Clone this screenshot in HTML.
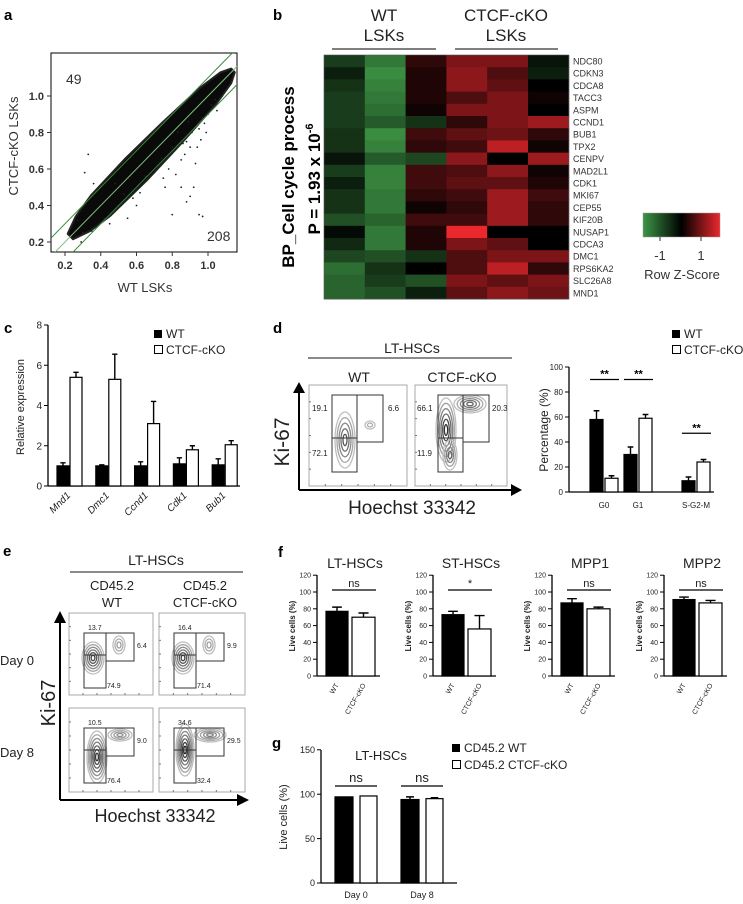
<!DOCTYPE html>
<html><head><meta charset="utf-8"><style>
html,body{margin:0;padding:0;background:#fff;}
svg{display:block;font-family:"Liberation Sans",sans-serif;}
</style></head><body>
<svg id="fig" width="743" height="904" viewBox="0 0 743 904" xmlns="http://www.w3.org/2000/svg">
<defs>
<linearGradient id="zgrad" x1="0" x2="1" y1="0" y2="0">
<stop offset="0" stop-color="rgb(60,150,70)"/><stop offset="0.5" stop-color="#000"/><stop offset="1" stop-color="rgb(235,40,45)"/>
</linearGradient>
<clipPath id="aclip"><rect x="51" y="53" width="186" height="199"/></clipPath>
</defs>
<text x="4" y="20" font-size="15" font-weight="bold">a</text>
<text x="273" y="20" font-size="15" font-weight="bold">b</text>
<text x="4" y="333" font-size="15" font-weight="bold">c</text>
<text x="273" y="333" font-size="15" font-weight="bold">d</text>
<text x="3" y="556" font-size="15" font-weight="bold">e</text>
<text x="278" y="557" font-size="15" font-weight="bold">f</text>
<text x="272" y="748" font-size="15" font-weight="bold">g</text>

<g id="pa">
<rect x="51" y="53" width="186" height="199" fill="none" stroke="#000" stroke-width="1"/>
<text x="18" y="146" font-size="13" fill="#333" text-anchor="middle" transform="rotate(-90 18 146)">CTCF-cKO LSKs</text>
<text x="145" y="292" font-size="13" fill="#333" text-anchor="middle">WT LSKs</text>
<text x="66" y="84" font-size="14" fill="#333">49</text>
<text x="207" y="241" font-size="14" fill="#333">208</text>
</g>

<g>
<text x="384" y="21" font-size="17" text-anchor="middle" fill="#222">WT</text>
<text x="384" y="41" font-size="17" text-anchor="middle" fill="#222">LSKs</text>
<line x1="332" y1="49" x2="436" y2="49" stroke="#333" stroke-width="1.3"/>
<text x="506" y="21" font-size="17" text-anchor="middle" fill="#222">CTCF-cKO</text>
<text x="506" y="41" font-size="17" text-anchor="middle" fill="#222">LSKs</text>
<line x1="455" y1="49" x2="558" y2="49" stroke="#333" stroke-width="1.3"/>
<text x="294" y="177" font-size="17" font-weight="bold" text-anchor="middle" transform="rotate(-90 294 177)">BP_Cell cycle process</text>
<text x="320" y="179" font-size="17" font-weight="bold" text-anchor="middle" transform="rotate(-90 320 179)">P = 1.93 x 10<tspan font-size="11" dy="-7">-6</tspan></text>
<rect x="643" y="213" width="77" height="24" fill="url(#zgrad)" stroke="#999" stroke-width="0.5"/>
<line x1="660" y1="237" x2="660" y2="241" stroke="#333"/>
<line x1="701" y1="237" x2="701" y2="241" stroke="#333"/>
<text x="660" y="260" font-size="13" text-anchor="middle" fill="#333">-1</text>
<text x="701" y="260" font-size="13" text-anchor="middle" fill="#333">1</text>
<text x="682" y="279" font-size="13" text-anchor="middle" fill="#333">Row Z-Score</text>
</g>

<text x="24" y="407" font-size="11" text-anchor="middle" fill="#222" transform="rotate(-90 24 407)">Relative expression</text>
<rect x="154" y="330" width="8" height="8" fill="#000"/>
<text x="166" y="338" font-size="12" fill="#222">WT</text>
<rect x="154.5" y="345.5" width="8" height="8" fill="#fff" stroke="#000"/>
<text x="166" y="354" font-size="12" fill="#222">CTCF-cKO</text>

<text x="412" y="353" font-size="14" text-anchor="middle" fill="#222">LT-HSCs</text>
<line x1="308" y1="358" x2="512" y2="358" stroke="#444" stroke-width="1.3"/>
<text x="359" y="382" font-size="14" text-anchor="middle" fill="#222">WT</text>
<text x="462" y="382" font-size="14" text-anchor="middle" fill="#222">CTCF-cKO</text>
<text x="289" y="442" font-size="21" text-anchor="middle" fill="#222" transform="rotate(-90 289 442)">Ki-67</text>
<text x="412" y="514" font-size="19" text-anchor="middle" fill="#222">Hoechst 33342</text>
<line x1="299" y1="490" x2="299" y2="392" stroke="#000" stroke-width="2"/>
<polygon points="293,393 305,393 299,382" fill="#000"/>
<line x1="299" y1="490" x2="512" y2="490" stroke="#000" stroke-width="2"/>
<polygon points="511,484 511,496 522,490" fill="#000"/>
<text x="548" y="430" font-size="12" text-anchor="middle" fill="#222" transform="rotate(-90 548 430)">Percentage (%)</text>
<rect x="672" y="330" width="8" height="8" fill="#000"/>
<text x="684" y="338" font-size="12" fill="#222">WT</text>
<rect x="672.5" y="345.5" width="8" height="8" fill="#fff" stroke="#000"/>
<text x="684" y="354" font-size="12" fill="#222">CTCF-cKO</text>

<text x="156" y="565" font-size="14" text-anchor="middle" fill="#222">LT-HSCs</text>
<line x1="70" y1="572" x2="243" y2="572" stroke="#444" stroke-width="1.3"/>
<text x="112" y="590" font-size="13" text-anchor="middle" fill="#222">CD45.2</text>
<text x="112" y="607" font-size="13" text-anchor="middle" fill="#222">WT</text>
<text x="205" y="590" font-size="13" text-anchor="middle" fill="#222">CD45.2</text>
<text x="205" y="607" font-size="13" text-anchor="middle" fill="#222">CTCF-cKO</text>
<text x="0" y="665" font-size="13" fill="#222">Day 0</text>
<text x="0" y="757" font-size="13" fill="#222">Day 8</text>
<text x="55" y="703" font-size="20" text-anchor="middle" fill="#222" transform="rotate(-90 55 703)">Ki-67</text>
<text x="155" y="822" font-size="18" text-anchor="middle" fill="#222">Hoechst 33342</text>
<line x1="60" y1="800" x2="60" y2="622" stroke="#000" stroke-width="2"/>
<polygon points="54,623 66,623 60,611" fill="#000"/>
<line x1="60" y1="800" x2="238" y2="800" stroke="#000" stroke-width="2"/>
<polygon points="237,794 237,806 249,800" fill="#000"/>

<text x="381" y="760" font-size="13" text-anchor="middle" fill="#222">LT-HSCs</text>
<text x="287" y="817" font-size="11" text-anchor="middle" fill="#222" transform="rotate(-90 287 817)">Live cells (%)</text>
<rect x="452" y="744" width="8" height="8" fill="#000"/>
<text x="464" y="752" font-size="12" fill="#222">CD45.2 WT</text>
<rect x="452.5" y="760.5" width="8" height="8" fill="#fff" stroke="#000"/>
<text x="464" y="769" font-size="12" fill="#222">CD45.2 CTCF-cKO</text>
</svg>
<script>
// ---------- DATA ----------
const aOutX = [0.33,0.31,0.36,0.50,0.70,0.75,0.85,0.90,0.93,0.95,0.95,0.97,0.80,0.88,0.92,0.85,0.90,0.98,1.00,0.60,0.55,0.62,0.45,0.30,0.40,0.80,0.78,0.67,1.02,0.83,0.88,0.94,0.72,0.58,0.99,1.05,0.87,0.82,0.76,0.96,0.27,0.29,0.35,0.42,0.48,0.53,0.65,0.70,0.74,0.86,0.91,1.04,1.08,0.97,0.89];
const aOutY = [0.68,0.58,0.52,0.62,0.80,0.55,0.50,0.45,0.63,0.82,0.35,0.34,0.35,0.42,0.50,0.65,0.72,0.85,0.90,0.40,0.33,0.47,0.30,0.25,0.50,0.72,0.60,0.55,0.95,0.80,0.75,0.72,0.62,0.44,0.80,0.92,0.68,0.57,0.50,0.76,0.32,0.20,0.26,0.33,0.52,0.46,0.56,0.58,0.66,0.74,0.80,0.98,1.00,0.88,0.86];
const aTicks = [0.2,0.4,0.6,0.8,1.0];
const aBandX = [0.23,0.30,0.40,0.60,0.80,1.00,1.10,1.14];
const aBandHalf = [0.015,0.04,0.055,0.06,0.055,0.045,0.03,0.01];
const heatGenes = ["NDC80","CDKN3","CDCA8","TACC3","ASPM","CCND1","BUB1","TPX2","CENPV","MAD2L1","CDK1","MKI67","CEP55","KIF20B","NUSAP1","CDCA3","DMC1","RPS6KA2","SLC26A8","MND1"];
const heatValues = [
[-0.6,-1.2,0.3,0.8,0.8,-0.2],[-0.3,-1.4,0.2,0.9,0.5,-0.3],[-0.5,-1.3,0.2,0.9,0.6,0.0],[-0.6,-1.2,0.2,0.5,0.8,0.1],
[-0.6,-1.1,0.1,0.8,0.8,0.0],[-0.6,-0.9,-0.5,0.3,0.8,1.0],[-0.5,-1.4,0.4,0.6,0.7,0.3],[-0.5,-1.3,0.3,0.4,1.2,0.1],
[-0.2,-0.9,-0.7,0.9,0.0,1.0],[-0.6,-1.3,0.4,0.5,0.9,0.1],[-0.3,-1.3,0.4,0.6,0.6,0.2],[-0.5,-1.2,0.3,0.4,1.0,0.4],
[-0.5,-1.2,0.1,0.3,1.0,0.3],[-0.8,-1.0,0.4,0.4,1.0,0.3],[-0.1,-1.2,0.2,1.5,0.0,0.0],[-0.4,-1.2,0.2,0.8,0.6,0.0],
[-0.7,-0.8,-0.5,0.5,0.8,0.8],[-1.1,-0.5,0.0,0.5,1.2,0.3],[-1.0,-0.6,-0.8,0.8,0.6,0.8],[-1.0,-0.8,-0.3,0.6,0.9,0.7]];
const cGenes = ["Mnd1","Dmc1","Ccnd1","Cdk1","Bub1"];
const cWT = [1.0,1.0,1.0,1.1,1.05];
const cWTerr = [0.15,0.05,0.2,0.3,0.3];
const cKO = [5.4,5.3,3.1,1.8,2.05];
const cKOerr = [0.25,1.25,1.1,0.2,0.2];
const cTicks = [0,2,4,6,8];
const dPhases = ["G0","G1","S-G2-M"];
const dWT = [58,30,9];
const dWTerr = [7,6,3];
const dKO = [11,59,24];
const dKOerr = [2,3,2];
const dSigLevel = [90,90,47];
const dTicks = [0,20,40,60,80,100];
const fPanels = ["LT-HSCs","ST-HSCs","MPP1","MPP2"];
const fWT = [77,73,87,91];
const fWTerr = [5,4,5,3];
const fKO = [70,56,80,87];
const fKOerr = [5,16,2,3];
const fSig = ["ns","*","ns","ns"];
const fTicks = [0,20,40,60,80,100,120];
const gDays = ["Day 0","Day 8"];
const gWT = [97,94];
const gWTerr = [0,3];
const gKO = [98,95];
const gKOerr = [0,1];
const gTicks = [0,50,100,150];
const dFlowLabels = [["19.1","6.6","72.1"],["66.1","20.3","11.9"]];
const eFlowLabels = [["13.7","6.4","74.9"],["16.4","9.9","71.4"],["10.5","9.0","76.4"],["34.6","29.5","32.4"]];

const NS="http://www.w3.org/2000/svg";
const svg=document.getElementById('fig');
function mk(tag, attrs, parent){const e=document.createElementNS(NS,tag);for(const k in attrs)e.setAttribute(k,attrs[k]);(parent||svg).appendChild(e);return e;}
function txt(s, attrs, parent){const e=mk('text',attrs,parent);e.textContent=s;return e;}

// ---------- PANEL A ----------
const ax=v=>65+(v-0.2)*178.75, ay=v=>242-(v-0.2)*182.5;
const ga=mk('g',{'clip-path':'url(#aclip)'});


let up=[],dn=[];
for(let i=0;i<aBandX.length;i++){up.push(ax(aBandX[i]-aBandHalf[i])+','+ay(aBandX[i]+aBandHalf[i]));dn.unshift(ax(aBandX[i]+aBandHalf[i])+','+ay(aBandX[i]-aBandHalf[i]));}
const band=mk('polygon',{points:up.concat(dn).join(' '),fill:'#0a0a0a','stroke':'#222','stroke-width':2,'stroke-linejoin':'round'},ga);


for(let i=0;i<aOutX.length;i++){
 const p=mk('circle',{cx:ax(aOutX[i]),cy:ay(aOutY[i]),r:0.9,fill:'#222'},ga);
 
 
}
[[0,'#7fbf7f'],[0.1,'#3a8a3a'],[-0.1,'#3a8a3a']].forEach((d,i)=>{
 const l=mk('line',{x1:ax(0.1),y1:ay(0.1+d[0]),x2:ax(1.25),y2:ay(1.25+d[0]),stroke:d[1],'stroke-width':1},ga);
 
 
});
aTicks.forEach(t=>{
 const lx=txt(t.toFixed(1),{x:ax(t),y:269,'font-size':11,'font-weight':'bold','text-anchor':'middle',fill:'#333'});
 
 
 const ly=txt(t.toFixed(1),{x:44,y:ay(t)+4,'font-size':11,'font-weight':'bold','text-anchor':'end',fill:'#333'});
 
 
 const tx=mk('line',{x1:ax(t),y1:252,x2:ax(t),y2:256,stroke:'#333'});
 
 
 const ty=mk('line',{x1:47,y1:ay(t),x2:51,y2:ay(t),stroke:'#333'});
 
 
});

// ---------- PANEL B ----------
function zcol(v){const t=Math.min(1,Math.abs(v)/1.5);return v<0?`rgb(${Math.round(62*t)},${Math.round(150*t)},${Math.round(70*t)})`:`rgb(${Math.round(235*t)},${Math.round(40*t)},${Math.round(45*t)})`;}
const hx0=324,hcw=40.8,hy0=55,hrh=12.2;
heatGenes.forEach((g,r)=>{
 heatValues[r].forEach((v,c)=>{
  const cell=mk('rect',{x:hx0+c*hcw,y:hy0+r*hrh,width:hcw+0.4,height:hrh+0.4,fill:zcol(v)});
  
  
 });
 const gl=txt(g,{x:573,y:hy0+r*hrh+9.5,'font-size':9,fill:'#333'});
 
 
});
const hf=mk('rect',{x:hx0,y:hy0,width:hcw*6,height:hrh*20,fill:'none',stroke:'#555','stroke-width':0.6});



function bar(x,w,top,base,filled,err,name){
 const b=mk('rect',{x:x,y:top,width:w,height:base-top,fill:filled?'#000':'#fff',stroke:'#000','stroke-width':1.2});
 
 
 if(err<top){
  const cx=x+w/2;
  const e=mk('path',{d:`M${cx},${top} V${err} M${cx-w*0.22},${err} H${cx+w*0.22}`,stroke:'#000','stroke-width':1.4,fill:'none'});
  
  
 }
}
function yaxis(x,yTop,yBot,ticks,yf,fs,name){
 const a=mk('line',{x1:x,y1:yTop,x2:x,y2:yBot,stroke:'#000','stroke-width':1.3});
 
 
 ticks.forEach(t=>{
  const tk=mk('line',{x1:x-4,y1:yf(t),x2:x,y2:yf(t),stroke:'#000'});
  
  
  const tl=txt(String(t),{x:x-6,y:yf(t)+fs*0.35,'font-size':fs,'text-anchor':'end',fill:'#222'});
  
  
 });
}
function base(x1,x2,y,name){
 const l=mk('line',{x1:x1,y1:y,x2:x2,y2:y,stroke:'#000','stroke-width':1.3});
 
 
}

// ---------- PANEL C ----------
const cy=v=>486-v*20.125;
yaxis(48,325,486,cTicks,cy,10,'c');
base(48,240,486,'c');
cGenes.forEach((g,i)=>{
 const x=57+i*38.8;
 bar(x,12,cy(cWT[i]),486,true,cy(cWT[i]+cWTerr[i]),'c-bar-wt-'+g.toLowerCase());
 bar(x+13,12,cy(cKO[i]),486,false,cy(cKO[i]+cKOerr[i]),'c-bar-ko-'+g.toLowerCase());
 const l=txt(g,{x:x+14,y:496,'font-size':10,'font-style':'italic','text-anchor':'end',fill:'#222',transform:`rotate(-45 ${x+14} 496)`});
 
 
});

// ---------- PANEL D BARS ----------
const dy=v=>492-v*1.25;
yaxis(569,367,492,dTicks,dy,8,'d');
base(569,714,492,'d');
const dX=[590,624,682];
dPhases.forEach((p,i)=>{
 const x=dX[i];
 bar(x,13,dy(dWT[i]),492,true,dy(dWT[i]+dWTerr[i]),'d-bar-wt-'+p.toLowerCase());
 bar(x+15,13,dy(dKO[i]),492,false,dy(dKO[i]+dKOerr[i]),'d-bar-ko-'+p.toLowerCase());
 const l=txt(p,{x:x+14,y:508,'font-size':8,'text-anchor':'middle',fill:'#222'});
 
 
 const top=dy(dSigLevel[i]);
 const sl=mk('line',{x1:x,y1:top,x2:x+29,y2:top,stroke:'#000','stroke-width':1.3});
 
 
 const st=txt('**',{x:x+14.5,y:top-2,'font-size':11,'font-weight':'bold','text-anchor':'middle'});
 
 
});

// ---------- FLOW PLOTS ----------
function flowBox(x1,y1,x2,y2,name){
 const r=mk('rect',{x:x1,y:y1,width:x2-x1,height:y2-y1,fill:'none',stroke:'#aaa','stroke-width':1});
 
 
 for(let k=1;k<6;k++){
  const t=mk('line',{x1:x1+k*(x2-x1)/6,y1:y2,x2:x1+k*(x2-x1)/6,y2:y2-2,stroke:'#777'});
  
  
  const t2=mk('line',{x1:x1,y1:y1+k*(y2-y1)/6,x2:x1+2,y2:y1+k*(y2-y1)/6,stroke:'#777'});
  
  
 }
}
function contour(cx,cy,rx,ry,n,dark,name){
 for(let k=n;k>=1;k--){
  const s=k/n;const g=Math.round(190-(1-s)*(190-dark));
  const e=mk('ellipse',{cx:cx,cy:cy,rx:rx*s,ry:ry*s,fill:'none',stroke:`rgb(${g},${g},${g})`,'stroke-width':1.3});
  
  
 }
}
function gates(lx1,lx2,rx2,top,mid,rbot,bot,labels,lab,fs,name){
 const p=mk('path',{d:`M${lx1},${top}H${lx2}V${bot}H${lx1}Z M${lx1},${mid}H${lx2} M${lx2},${top}H${rx2}V${rbot}H${lx2}`,fill:'none',stroke:'#333','stroke-width':1});
 
 
 labels.forEach((s,i)=>{
  const t=txt(s,{x:lab[i][0],y:lab[i][1],'font-size':fs,fill:'#222'});
  
  
 });
}
flowBox(309,385,407,486,'d-flow-wt');
contour(345,440,10,28,5,60,'d-wt-contour');
contour(370,425,5,4,2,150,'d-wt-contour');
gates(332,357,383,395,438,442,472,dFlowLabels[0],[[312,411],[388,411],[312,456]],8,'d-flow-wt');
flowBox(415,385,507,486,'d-flow-ko');
contour(446,430,10,32,6,20,'d-ko-contour');
contour(470,404,16,9,5,70,'d-ko-contour');
contour(450,455,7,15,4,70,'d-ko-contour');
gates(438,463,489,395,438,442,472,dFlowLabels[1],[[417,411],[492,411],[417,456]],8,'d-flow-ko');
const eBoxes=[[69,613,153,695],[159,613,245,695],[69,708,153,792],[159,708,245,792]];
eBoxes.forEach((b,i)=>{
 flowBox(b[0],b[1],b[2],b[3],'e-flow-plot-'+(i+1));
 const ox=b[0]-69, oy=b[1]-613;
 const isKO=i%2==1, d8=i>=2;
 if(!d8){contour(93+ox,658+oy,11,16,6,40,'e-contour');contour(119+ox,645+oy,6,9,3,140,'e-contour');}
 else if(!isKO){contour(97+ox,662+oy,10,26,7,30,'e-contour');contour(120+ox,640+oy,12,6,4,120,'e-contour');}
 else {contour(95+ox,655+oy,9,26,7,15,'e-contour');contour(120+ox,640+oy,16,7,5,110,'e-contour');}
 const t=b[1];
 gates(84+ox,106+ox,134+ox,t+20,t+42,t+48,t+75,eFlowLabels[i],[[88+ox,t+17],[137+ox,t+35],[107+ox,t+75]],7,'e-flow-plot-'+(i+1));
});

// ---------- PANEL F ----------
const fy=v=>676-v*0.84;
const fAx=[317,433,552,664];
fPanels.forEach((p,k)=>{
 const x=fAx[k];
 const tt=txt(p,{x:x+38,y:568,'font-size':14,'text-anchor':'middle',fill:'#222'});
 
 
 yaxis(x,575,676,fTicks,fy,7,'f-'+p.toLowerCase());
 base(x,x+63,676,'f-'+p.toLowerCase());
 bar(x+9,22,fy(fWT[k]),676,true,fy(fWT[k]+fWTerr[k]),'f-bar-wt-'+p.toLowerCase());
 bar(x+35,23,fy(fKO[k]),676,false,fy(fKO[k]+fKOerr[k]),'f-bar-ko-'+p.toLowerCase());
 const sl=mk('line',{x1:x+15,y1:590,x2:x+59,y2:590,stroke:'#000','stroke-width':1.2});
 
 
 const st=txt(fSig[k],{x:x+37,y:587,'font-size':11,'text-anchor':'middle',fill:'#222'});
 
 
 const yt=txt('Live cells (%)',{x:x-22,y:626,'font-size':8,'font-weight':'bold','text-anchor':'middle',fill:'#222',transform:`rotate(-90 ${x-22} 626)`});
 
 
 const l1=txt('WT',{x:x+22,y:685,'font-size':7,'text-anchor':'end',fill:'#222',transform:`rotate(-60 ${x+22} 685)`});
 
 
 const l2=txt('CTCF-cKO',{x:x+49,y:685,'font-size':7,'text-anchor':'end',fill:'#222',transform:`rotate(-60 ${x+49} 685)`});
 
 
});

// ---------- PANEL G ----------
const gy=v=>883-v*0.888;
yaxis(321,750,883,gTicks,gy,9,'g');
base(321,457,883,'g');
gDays.forEach((d,i)=>{
 const x=335+i*66;
 bar(x,18,gy(gWT[i]),883,true,gy(gWT[i]+gWTerr[i]),'g-bar-wt-day'+i);
 bar(x+25,17,gy(gKO[i]),883,false,gy(gKO[i]+gKOerr[i]),'g-bar-ko-day'+i);
 const l=txt(d,{x:x+21,y:898,'font-size':9,'text-anchor':'middle',fill:'#222'});
 
 
 const sl=mk('line',{x1:x,y1:786,x2:x+42,y2:786,stroke:'#000','stroke-width':1.2});
 
 
 const st=txt('ns',{x:x+21,y:782,'font-size':13,'text-anchor':'middle',fill:'#222'});
 
 
});
</script>
</body></html>
